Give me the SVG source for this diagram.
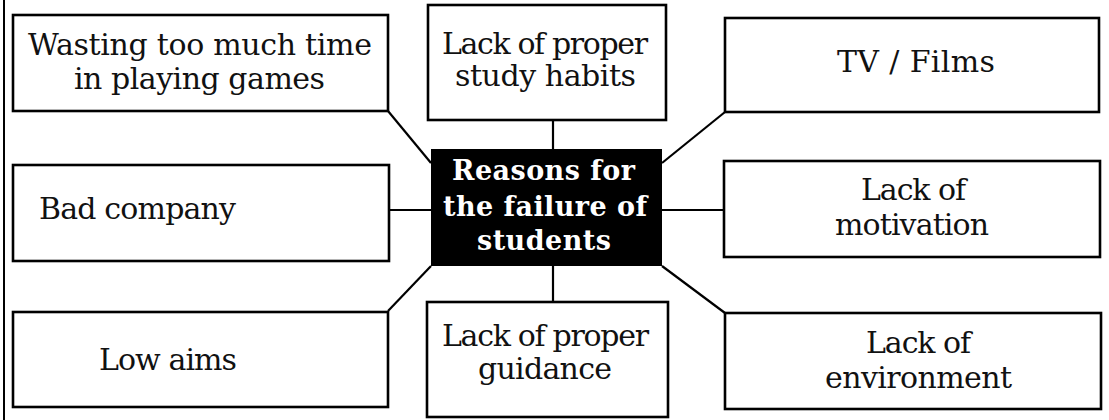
<svg xmlns="http://www.w3.org/2000/svg" width="1109" height="420" viewBox="0 0 1109 420">
<style>
.box{fill:#fff;stroke:#000;stroke-width:2.6}
.t{font-family:"DejaVu Serif","Liberation Serif",serif;font-size:30px;fill:#111}
.c{text-anchor:middle}
.h{font-family:"DejaVu Serif","Liberation Serif",serif;font-weight:bold;font-size:27px;fill:#fff;text-anchor:middle}
.ln{stroke:#000;stroke-width:2.2;fill:none}
</style>
<rect width="1109" height="420" fill="#fff"/>
<line x1="4" y1="0" x2="4" y2="420" stroke="#000" stroke-width="2"/>
<g id="connectors">
<line class="ln" x1="553" y1="120" x2="553" y2="149"/>
<line class="ln" x1="553" y1="266" x2="553" y2="302"/>
<line class="ln" x1="389" y1="210" x2="431" y2="210"/>
<line class="ln" x1="662" y1="210" x2="724" y2="210"/>
<line class="ln" x1="388" y1="111" x2="431" y2="163"/>
<line class="ln" x1="725" y1="112" x2="662" y2="163"/>
<line class="ln" x1="388" y1="311" x2="431" y2="266"/>
<line class="ln" x1="725" y1="313" x2="662" y2="266"/>
</g>
<g id="center">
<rect x="431" y="149" width="231" height="117" fill="#000"/>
<text class="h" x="543.5" y="180" textLength="183" lengthAdjust="spacing">Reasons for</text>
<text class="h" x="545" y="216" textLength="204" lengthAdjust="spacing">the failure of</text>
<text class="h" x="544" y="250" textLength="134" lengthAdjust="spacing">students</text>
</g>
<g id="n1">
<rect class="box" x="13" y="15" width="375" height="96"/>
<text class="t c" x="200" y="55" textLength="344" lengthAdjust="spacing">Wasting too much time</text>
<text class="t c" x="199.5" y="89" textLength="251" lengthAdjust="spacing">in playing games</text>
</g>
<g id="n2">
<rect class="box" x="428" y="5" width="238" height="115"/>
<text class="t c" x="545" y="54" textLength="206" lengthAdjust="spacing">Lack of proper</text>
<text class="t c" x="545.5" y="86" textLength="181" lengthAdjust="spacing">study habits</text>
</g>
<g id="n3">
<rect class="box" x="725" y="18" width="374" height="94"/>
<text class="t c" x="916" y="72" textLength="158" lengthAdjust="spacing">TV / Films</text>
</g>
<g id="n4">
<rect class="box" x="13" y="165" width="376" height="96"/>
<text class="t" x="39" y="219" textLength="197" lengthAdjust="spacing">Bad company</text>
</g>
<g id="n5">
<rect class="box" x="724" y="161" width="376" height="96"/>
<text class="t c" x="913.5" y="200" textLength="105" lengthAdjust="spacing">Lack of</text>
<text class="t c" x="912" y="235" textLength="154" lengthAdjust="spacing">motivation</text>
</g>
<g id="n6">
<rect class="box" x="13" y="312" width="375" height="95"/>
<text class="t" x="99" y="370" textLength="138" lengthAdjust="spacing">Low aims</text>
</g>
<g id="n7">
<rect class="box" x="427" y="302" width="241" height="115"/>
<text class="t c" x="545.5" y="346" textLength="207" lengthAdjust="spacing">Lack of proper</text>
<text class="t c" x="545" y="379" textLength="134" lengthAdjust="spacing">guidance</text>
</g>
<g id="n8">
<rect class="box" x="725" y="313" width="376" height="96"/>
<text class="t c" x="918.5" y="353" textLength="105" lengthAdjust="spacing">Lack of</text>
<text class="t c" x="918.5" y="388" textLength="187" lengthAdjust="spacing">environment</text>
</g>
</svg>
